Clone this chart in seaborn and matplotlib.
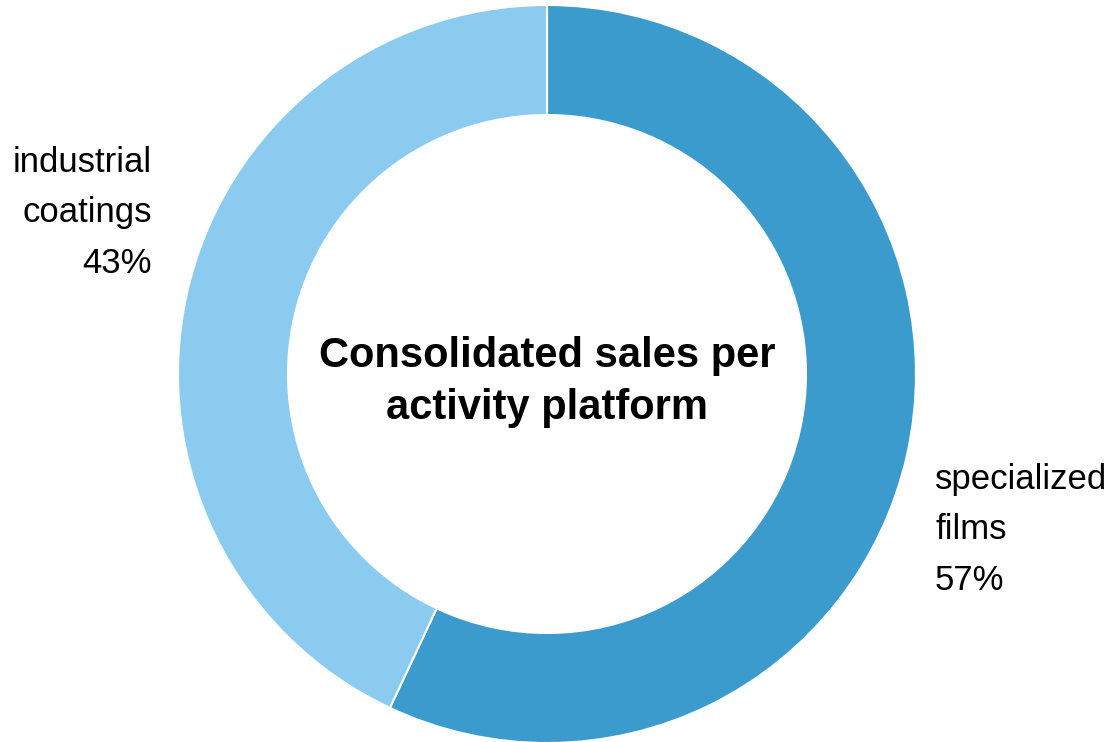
import matplotlib
matplotlib.use("Agg")
import matplotlib.pyplot as plt
import seaborn as sns

# Consolidated sales split by activity platform (percent)
platforms = ["specialized films", "industrial coatings"]
shares = [57, 43]
label_lines = [["specialized", "films"], ["industrial", "coatings"]]
title_lines = ["Consolidated sales per", "activity platform"]

sns.set_theme(style="white")
plt.rcParams["font.family"] = ["Liberation Sans", "DejaVu Sans"]
colors = sns.color_palette(["#3A9BCC", "#8BCBF0"])

W, H = 1114, 742
fig = plt.figure(figsize=(W / 100, H / 100), dpi=100)
ax = fig.add_axes([0, 0, 1, 1])

cx, cy, r = 547, H - 374, 369
ax.pie(shares, colors=colors, startangle=90, counterclock=False,
       center=(cx, cy), radius=r, frame=True,
       wedgeprops=dict(width=110, edgecolor="white", linewidth=1.5))
ax.set_xlim(0, W)
ax.set_ylim(0, H)
ax.set_aspect("equal")
ax.axis("off")

fs = 25
lsp = 1.68
# specialized films label, right of the ring (anchored on its last line)
ax.text(935, H - 590, "\n".join(label_lines[0] + [f"{shares[0]}%"]),
        ha="left", va="baseline", fontsize=fs, color="black",
        linespacing=lsp, multialignment="left")
# industrial coatings label, left of the ring
ax.text(152, H - 273, "\n".join(label_lines[1] + [f"{shares[1]}%"]),
        ha="right", va="baseline", fontsize=fs, color="black",
        linespacing=lsp, multialignment="right")

ax.text(cx, H - 419, "\n".join(title_lines), ha="center", va="baseline",
        fontsize=30, fontweight="bold", color="black", linespacing=1.38,
        multialignment="center")

fig.savefig("out.png", dpi=100, facecolor="white")
